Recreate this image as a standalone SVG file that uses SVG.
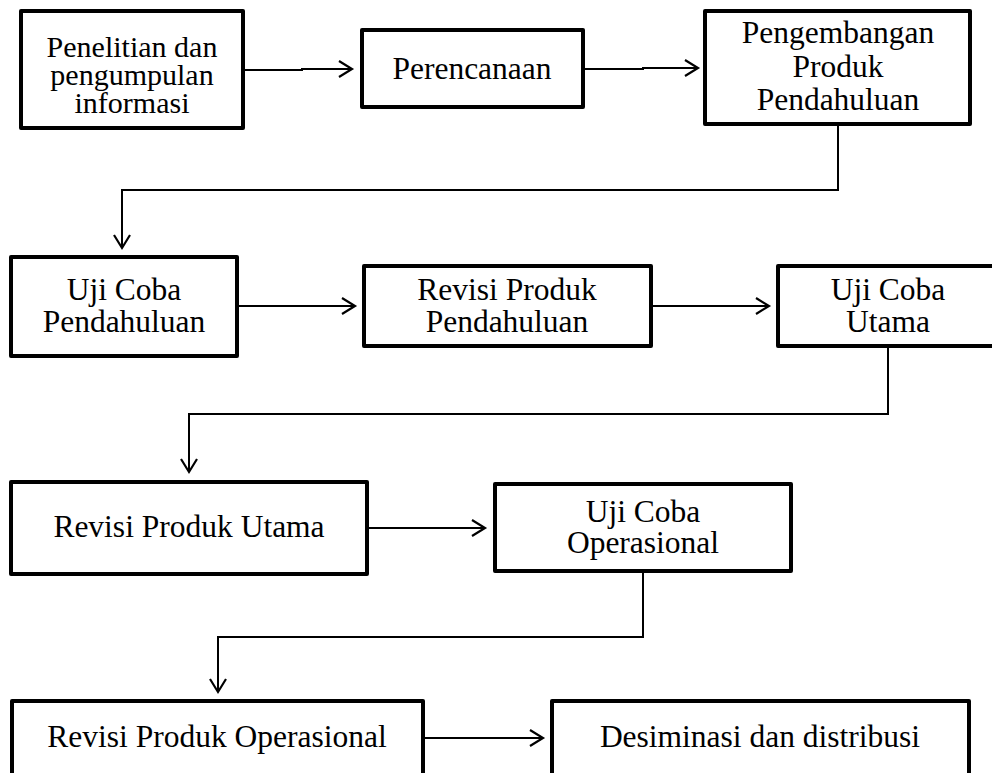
<svg xmlns="http://www.w3.org/2000/svg" width="992" height="773" viewBox="0 0 992 773">
<style>
  .box { fill: #ffffff; stroke: #000000; stroke-width: 4; stroke-linejoin: round; }
  .lbl { font-size: 31.5px; fill: #000000; text-anchor: middle; }
  .sm { font-size: 30px; }
  .conn { fill: none; stroke: #000000; stroke-width: 2; }
</style>
<defs>
  <marker id="chev" markerUnits="userSpaceOnUse" markerWidth="20" markerHeight="20" viewBox="-14 -10 16 20" refX="0" refY="0" orient="auto">
    <path d="M-13,-8 L0,0 L-13,8" fill="none" stroke="#000000" stroke-width="2.2"/>
  </marker>
</defs>
<rect width="992" height="773" fill="#ffffff"/>

<g id="connectors">
  <path class="conn" d="M245 70 H302 V69 H352" marker-end="url(#chev)"/>
  <path class="conn" d="M585 69 H643 V68 H698" marker-end="url(#chev)"/>
  <path class="conn" d="M838 126 V190 H122 V248" marker-end="url(#chev)"/>
  <path class="conn" d="M239 306 H355" marker-end="url(#chev)"/>
  <path class="conn" d="M653 306 H769" marker-end="url(#chev)"/>
  <path class="conn" d="M888 348 V414 H189 V472" marker-end="url(#chev)"/>
  <path class="conn" d="M369 528 H485" marker-end="url(#chev)"/>
  <path class="conn" d="M643 573 V637 H218 V692" marker-end="url(#chev)"/>
  <path class="conn" d="M425 738 H543" marker-end="url(#chev)"/>
</g>

<g font-family="Liberation Serif, DejaVu Serif, serif">
<g id="n1">
  <rect class="box" x="21" y="11" width="222" height="117"/>
  <text class="lbl sm" x="132" y="57">Penelitian dan</text>
  <text class="lbl sm" x="132" y="85">pengumpulan</text>
  <text class="lbl sm" x="132" y="113">informasi</text>
</g>
<g id="n2">
  <rect class="box" x="362" y="30" width="221" height="77"/>
  <text class="lbl" x="472" y="79">Perencanaan</text>
</g>
<g id="n3">
  <rect class="box" x="705" y="11" width="265" height="113"/>
  <text class="lbl" x="838" y="43">Pengembangan</text>
  <text class="lbl" x="838" y="77">Produk</text>
  <text class="lbl" x="838" y="110">Pendahuluan</text>
</g>
<g id="n4">
  <rect class="box" x="11" y="257" width="226" height="99"/>
  <text class="lbl" x="124" y="300">Uji Coba</text>
  <text class="lbl" x="124" y="332">Pendahuluan</text>
</g>
<g id="n5">
  <rect class="box" x="364" y="266" width="287" height="80"/>
  <text class="lbl" x="507" y="300">Revisi Produk</text>
  <text class="lbl" x="507" y="332">Pendahuluan</text>
</g>
<g id="n6">
  <rect class="box" x="778" y="266" width="230" height="80"/>
  <text class="lbl" x="888" y="300">Uji Coba</text>
  <text class="lbl" x="888" y="332">Utama</text>
</g>
<g id="n7">
  <rect class="box" x="11" y="482" width="356" height="92"/>
  <text class="lbl" x="189" y="537">Revisi Produk Utama</text>
</g>
<g id="n8">
  <rect class="box" x="495" y="484" width="296" height="87"/>
  <text class="lbl" x="643" y="522">Uji Coba</text>
  <text class="lbl" x="643" y="553">Operasional</text>
</g>
<g id="n9">
  <rect class="box" x="12" y="701" width="411" height="100"/>
  <text class="lbl" x="217" y="747">Revisi Produk Operasional</text>
</g>
<g id="n10">
  <rect class="box" x="552" y="701" width="417" height="100"/>
  <text class="lbl" x="760" y="747">Desiminasi dan distribusi</text>
</g>
</g>
</svg>
